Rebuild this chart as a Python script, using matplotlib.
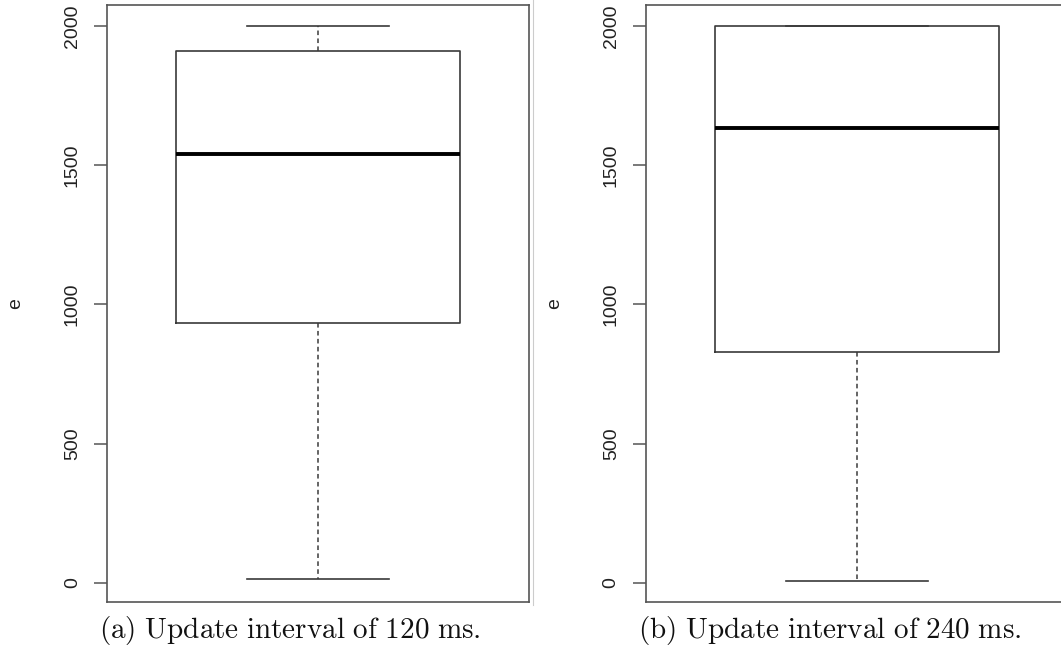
import matplotlib
matplotlib.use("Agg")
import matplotlib.pyplot as plt
from matplotlib.lines import Line2D

plt.rcParams['font.family'] = ['Liberation Sans', 'DejaVu Sans']
plt.rcParams['mathtext.fontset'] = 'cm'

# Data
panel_labels = ["(a) Update interval of 120 ms.", "(b) Update interval of 240 ms."]
whisker_low = [14, 8]
q1_vals = [934, 829]
median_vals = [1540, 1634]
q3_vals = [1910, 2000]
whisker_high = [2000, 2000]
yticks = [0, 500, 1000, 1500, 2000]
ylabel = "e"

W, H = 1061, 646
fig = plt.figure(figsize=(W / 100, H / 100), dpi=100)

ax_left_px = [107, 646]
ax_w_px = 422
ax_top_px, ax_bot_px = 5, 602
caption_x_px = [99, 638]

frame_col = '#555555'
box_col = '#3a3a3a'

for i in range(2):
    ax = fig.add_axes([ax_left_px[i] / W, 1 - ax_bot_px / H,
                       ax_w_px / W, (ax_bot_px - ax_top_px) / H])
    stats = [dict(whislo=whisker_low[i], q1=q1_vals[i], med=median_vals[i],
                  q3=q3_vals[i], whishi=whisker_high[i], fliers=[])]
    ax.bxp(stats, positions=[1], widths=0.727, capwidths=0.363,
           showfliers=False, patch_artist=False,
           boxprops=dict(color=box_col, linewidth=1.2),
           medianprops=dict(color='black', linewidth=2.8, solid_capstyle='butt'),
           whiskerprops=dict(color=box_col, linewidth=1.1, linestyle=(0, (3.0, 2.2))),
           capprops=dict(color=box_col, linewidth=1.2))
    ax.set_xlim(0.46, 1.54)
    ax.set_ylim(-68, 2075)
    ax.set_xticks([])
    ax.set_yticks(yticks)
    ax.set_yticklabels([str(t) for t in yticks], rotation=90, va='center')
    ax.tick_params(axis='y', length=9.4, width=1.1, color=frame_col, pad=9.5,
                   labelsize=14, labelcolor='#222222')
    for s in ax.spines.values():
        s.set_color(frame_col)
        s.set_linewidth(1.2)
    # y label
    fig.text((ax_left_px[i] - 91) / W, 1 - ((ax_top_px + ax_bot_px) / 2) / H, ylabel,
             rotation=90, ha='center', va='center', fontsize=14, color='#222222')
    # caption
    cap = panel_labels[i].replace(' ', r'\ ')
    fig.text(caption_x_px[i] / W, 1 - 638 / H, r'$\mathrm{' + cap + '}$',
             ha='left', va='baseline', fontsize=21, color='#111111')

# faint subfigure border at right of panel (a)
fig.add_artist(Line2D([533 / W, 533 / W], [1 - 605 / H, 1.0], transform=fig.transFigure,
                      color='#cccccc', linewidth=0.8))

fig.savefig('out.png', dpi=100)
